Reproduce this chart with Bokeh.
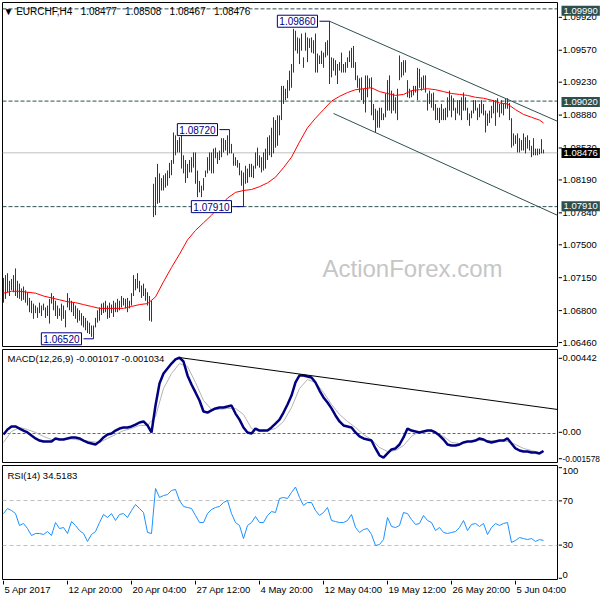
from bokeh.plotting import figure
from bokeh.layouts import column, row
from bokeh.models import Range1d, Label, Span, ColumnDataSource
from bokeh.core.properties import value
from bokeh.embed import file_html
from bokeh.resources import INLINE

# ---------------- data ----------------
GAP = " \u00A0\u00A0"
chart_title = "\u25BC EURCHF,H4" + GAP + "1.08477" + GAP + "1.08508" + GAP + "1.08467" + GAP + "1.08476"

highs = [
    1.0716, 1.0719, 1.0721, 1.0713, 1.0715, 1.0719, 1.0726, 1.0713, 1.0710, 1.0705,
    1.0707, 1.0703, 1.0701, 1.0695, 1.0692, 1.0689, 1.0687, 1.0685, 1.0690, 1.0687,
    1.0689, 1.0685, 1.0687, 1.0694, 1.0700, 1.0697, 1.0692, 1.0687, 1.0684, 1.0689,
    1.0687, 1.0682, 1.0700, 1.0695, 1.0692, 1.0690, 1.0687, 1.0684, 1.0682, 1.0679,
    1.0676, 1.0674, 1.0671, 1.0669, 1.0666, 1.0666, 1.0674, 1.0682, 1.0685, 1.0689,
    1.0690, 1.0692, 1.0687, 1.0690, 1.0688, 1.0692, 1.0690, 1.0694, 1.0692, 1.0697,
    1.0695, 1.0694, 1.0695, 1.0692, 1.0700, 1.0719, 1.0715, 1.0721, 1.0713, 1.0708,
    1.0710, 1.0705, 1.0701, 1.0697, 1.0692, 1.0815, 1.0822, 1.0836, 1.0826, 1.0821,
    1.0824, 1.0826, 1.0829, 1.0837, 1.0840, 1.0869, 1.0866, 1.0861, 1.0864, 1.0868,
    1.0845, 1.0840, 1.0836, 1.0840, 1.0843, 1.0848, 1.0848, 1.0829, 1.0818, 1.0813,
    1.0821, 1.0829, 1.0843, 1.0848, 1.0848, 1.0852, 1.0853, 1.0848, 1.0850, 1.0863,
    1.0863, 1.0861, 1.0866, 1.0872, 1.0857, 1.0847, 1.0843, 1.0840, 1.0837, 1.0829,
    1.0827, 1.0834, 1.0831, 1.0836, 1.0836, 1.0834, 1.0848, 1.0853, 1.0845, 1.0843,
    1.0848, 1.0852, 1.0864, 1.0866, 1.0874, 1.0885, 1.0882, 1.0887, 1.0887, 1.0918,
    1.0918, 1.0915, 1.0924, 1.0934, 1.0941, 1.0978, 1.0976, 1.0969, 1.0968, 1.0973,
    1.0948, 1.0974, 1.0969, 1.0968, 1.0969, 1.0966, 1.0973, 1.0952, 1.0950, 1.0955,
    1.0953, 1.0964, 1.0966, 1.0986, 1.0948, 1.0947, 1.0945, 1.0941, 1.0943, 1.0953,
    1.0941, 1.0943, 1.0948, 1.0955, 1.0958, 1.0960, 1.0943, 1.0929, 1.0926, 1.0927,
    1.0915, 1.0929, 1.0929, 1.0926, 1.0927, 1.0899, 1.0894, 1.0892, 1.0895, 1.0895,
    1.0889, 1.0910, 1.0924, 1.0929, 1.0913, 1.0910, 1.0906, 1.0915, 1.0950, 1.0943,
    1.0945, 1.0945, 1.0924, 1.0915, 1.0913, 1.0918, 1.0918, 1.0937, 1.0936, 1.0927,
    1.0929, 1.0929, 1.0910, 1.0913, 1.0910, 1.0911, 1.0899, 1.0895, 1.0895, 1.0899,
    1.0894, 1.0895, 1.0906, 1.0913, 1.0908, 1.0905, 1.0895, 1.0903, 1.0903, 1.0906,
    1.0911, 1.0906, 1.0895, 1.0889, 1.0892, 1.0903, 1.0903, 1.0895, 1.0899, 1.0903,
    1.0899, 1.0892, 1.0889, 1.0892, 1.0897, 1.0903, 1.0903, 1.0905, 1.0899, 1.0903,
    1.0899, 1.0905, 1.0905, 1.0900, 1.0884, 1.0868, 1.0866, 1.0868, 1.0863, 1.0861,
    1.0868, 1.0864, 1.0866, 1.0861, 1.0855, 1.0863, 1.0852, 1.0852, 1.0852, 1.0862,
    1.0851,
]

lows = [
    1.0690, 1.0694, 1.0701, 1.0697, 1.0703, 1.0701, 1.0697, 1.0695, 1.0694, 1.0692,
    1.0693, 1.0690, 1.0687, 1.0680, 1.0679, 1.0673, 1.0679, 1.0674, 1.0679, 1.0676,
    1.0682, 1.0674, 1.0676, 1.0668, 1.0689, 1.0682, 1.0676, 1.0673, 1.0676, 1.0671,
    1.0673, 1.0664, 1.0685, 1.0682, 1.0680, 1.0676, 1.0673, 1.0669, 1.0671, 1.0666,
    1.0664, 1.0661, 1.0658, 1.0657, 1.0654, 1.0652, 1.0664, 1.0669, 1.0671, 1.0677,
    1.0679, 1.0680, 1.0673, 1.0674, 1.0679, 1.0675, 1.0680, 1.0680, 1.0682, 1.0685,
    1.0687, 1.0684, 1.0680, 1.0684, 1.0687, 1.0697, 1.0703, 1.0705, 1.0701, 1.0695,
    1.0697, 1.0692, 1.0687, 1.0671, 1.0670, 1.0780, 1.0782, 1.0794, 1.0795, 1.0808,
    1.0808, 1.0811, 1.0813, 1.0821, 1.0824, 1.0836, 1.0845, 1.0848, 1.0848, 1.0831,
    1.0826, 1.0816, 1.0821, 1.0827, 1.0827, 1.0832, 1.0815, 1.0801, 1.0806, 1.0801,
    1.0808, 1.0822, 1.0826, 1.0829, 1.0826, 1.0826, 1.0842, 1.0836, 1.0840, 1.0843,
    1.0848, 1.0850, 1.0845, 1.0847, 1.0847, 1.0834, 1.0834, 1.0832, 1.0824, 1.0813,
    1.0791, 1.0815, 1.0816, 1.0822, 1.0822, 1.0821, 1.0831, 1.0834, 1.0832, 1.0827,
    1.0829, 1.0831, 1.0840, 1.0845, 1.0843, 1.0847, 1.0853, 1.0855, 1.0866, 1.0882,
    1.0899, 1.0903, 1.0905, 1.0913, 1.0916, 1.0932, 1.0955, 1.0952, 1.0941, 1.0955,
    1.0937, 1.0955, 1.0943, 1.0958, 1.0953, 1.0952, 1.0932, 1.0932, 1.0941, 1.0941,
    1.0937, 1.0948, 1.0950, 1.0920, 1.0927, 1.0934, 1.0929, 1.0920, 1.0934, 1.0932,
    1.0932, 1.0932, 1.0937, 1.0943, 1.0937, 1.0937, 1.0924, 1.0916, 1.0911, 1.0903,
    1.0899, 1.0890, 1.0906, 1.0916, 1.0887, 1.0882, 1.0869, 1.0874, 1.0874, 1.0882,
    1.0882, 1.0885, 1.0892, 1.0892, 1.0889, 1.0892, 1.0889, 1.0882, 1.0924, 1.0927,
    1.0929, 1.0932, 1.0906, 1.0905, 1.0906, 1.0908, 1.0911, 1.0903, 1.0916, 1.0913,
    1.0915, 1.0911, 1.0892, 1.0899, 1.0895, 1.0892, 1.0882, 1.0882, 1.0879, 1.0882,
    1.0882, 1.0882, 1.0885, 1.0892, 1.0885, 1.0892, 1.0882, 1.0889, 1.0887, 1.0882,
    1.0892, 1.0892, 1.0882, 1.0876, 1.0884, 1.0889, 1.0892, 1.0882, 1.0885, 1.0889,
    1.0887, 1.0869, 1.0876, 1.0879, 1.0884, 1.0889, 1.0876, 1.0890, 1.0885, 1.0889,
    1.0887, 1.0894, 1.0894, 1.0882, 1.0853, 1.0855, 1.0857, 1.0848, 1.0848, 1.0850,
    1.0850, 1.0847, 1.0852, 1.0850, 1.0843, 1.0845, 1.0845, 1.0845, 1.0846, 1.0847,
    1.0847,
]
bar_idx = list(range(len(highs)))

ma_idx = list(range(0, 269, 4)) + [270]
ma21 = [
    1.0700, 1.0702, 1.0702, 1.0701, 1.0700, 1.0697, 1.0695, 1.0693, 1.0691, 1.0690,
    1.0688, 1.0686, 1.0684, 1.0684, 1.0684, 1.0684, 1.0686, 1.0688, 1.0689, 1.0696,
    1.0712, 1.0727, 1.0741, 1.0756, 1.0766, 1.0774, 1.0782, 1.0791, 1.0800, 1.0806,
    1.0808, 1.0809, 1.0812, 1.0816, 1.0822, 1.0832, 1.0843, 1.0859, 1.0874, 1.0884,
    1.0893, 1.0902, 1.0907, 1.0911, 1.0914, 1.0915, 1.0916, 1.0912, 1.0910, 1.0908,
    1.0909, 1.0913, 1.0914, 1.0915, 1.0914, 1.0912, 1.0910, 1.0909, 1.0908, 1.0906,
    1.0905, 1.0903, 1.0900, 1.0899, 1.0893, 1.0888, 1.0885, 1.0882, 1.0879,
]

osc_idx = list(range(0, 271, 2))
macd_main = [
    -0.00006, 0.00023, 0.00041, 0.00041, 0.00029, 0.00017, 0.00006, -0.00012, -0.00029, -0.00041,
    -0.00047, -0.00047, -0.00047, -0.00029, -0.00035, -0.00035, -0.00029, -0.00023, -0.00023, -0.00029,
    -0.00041, -0.00052, -0.00058, -0.00064, -0.00047, -0.00023, -0.00006, 0.00000, 0.00017, 0.00029,
    0.00035, 0.00035, 0.00041, 0.00052, 0.00064, 0.00070, 0.00047, 0.00006, 0.00163, 0.00291,
    0.00349, 0.00378, 0.00407, 0.00431, 0.00442, 0.00419, 0.00338, 0.00285, 0.00239, 0.00192,
    0.00128, 0.00122, 0.00134, 0.00146, 0.00151, 0.00151, 0.00157, 0.00163, 0.00116, 0.00081,
    0.00035, 0.00006, 0.00000, 0.00029, 0.00017, 0.00017, 0.00017, 0.00035, 0.00058, 0.00081,
    0.00122, 0.00169, 0.00221, 0.00297, 0.00338, 0.00338, 0.00332, 0.00326, 0.00297, 0.00250,
    0.00210, 0.00180, 0.00146, 0.00105, 0.00070, 0.00047, 0.00041, 0.00035, 0.00006, -0.00017,
    -0.00029, -0.00035, -0.00041, -0.00087, -0.00128, -0.00140, -0.00116, -0.00093, -0.00087, -0.00064,
    -0.00023, 0.00029, 0.00017, 0.00012, 0.00006, 0.00012, 0.00017, 0.00017, 0.00006, -0.00012,
    -0.00035, -0.00064, -0.00070, -0.00070, -0.00064, -0.00052, -0.00047, -0.00047, -0.00041, -0.00029,
    -0.00035, -0.00047, -0.00052, -0.00047, -0.00041, -0.00041, -0.00029, -0.00058, -0.00087, -0.00099,
    -0.00105, -0.00105, -0.00111, -0.00111, -0.00116, -0.001017,
]
macd_signal = [
    -0.00052, 0.00012, 0.00035, 0.00023, 0.00006, -0.00017, -0.00035, -0.00035, -0.00029, -0.00035,
    -0.00041, -0.00047, -0.00052, -0.00029, -0.00006, 0.00017, 0.00029, 0.00047, 0.00047, 0.00099,
    0.00262, 0.00349, 0.00407, 0.00390, 0.00297, 0.00192, 0.00140, 0.00140, 0.00146, 0.00146,
    0.00111, 0.00029, 0.00012, 0.00017, 0.00029, 0.00070, 0.00151, 0.00262, 0.00314, 0.00297,
    0.00239, 0.00169, 0.00111, 0.00070, 0.00035, -0.00006, -0.00035, -0.00081, -0.00105, -0.00099,
    -0.00070, -0.00017, 0.00012, 0.00017, 0.00006, -0.00017, -0.00052, -0.00058, -0.00047, -0.00041,
    -0.00041, -0.00041, -0.00041, -0.00047, -0.00064, -0.00087, -0.00099, -0.00111, -0.001034,
]
rsi14 = [
    58.4, 62.9, 61.1, 58.4, 47.8, 49.6, 45.1, 38.9, 40.7, 40.7,
    39.8, 42.4, 38.9, 50.4, 45.1, 46.0, 40.7, 51.3, 47.8, 43.3,
    40.7, 33.6, 39.8, 42.4, 50.4, 57.6, 54.9, 58.4, 52.2, 57.6,
    58.4, 54.9, 61.1, 66.4, 62.9, 59.3, 41.6, 40.7, 80.7, 72.7,
    74.4, 75.3, 78.9, 79.8, 70.0, 64.7, 63.8, 62.9, 56.7, 50.4,
    50.4, 58.4, 62.0, 63.8, 64.7, 68.2, 70.0, 58.4, 50.4, 47.8,
    36.2, 47.8, 50.4, 55.8, 50.4, 50.4, 56.7, 60.2, 59.3, 71.8,
    72.7, 71.8, 77.1, 82.0, 72.7, 65.6, 68.2, 68.2, 61.1, 56.7,
    59.3, 63.8, 52.2, 51.3, 50.4, 50.4, 52.2, 57.6, 46.0, 41.6,
    44.2, 45.1, 39.8, 30.0, 30.9, 35.3, 54.9, 46.9, 46.0, 47.8,
    59.3, 58.4, 53.1, 48.7, 49.6, 56.7, 52.2, 50.4, 43.3, 46.0,
    41.6, 40.7, 41.6, 42.4, 46.0, 52.2, 43.3, 48.7, 49.6, 46.9,
    49.6, 39.8, 46.0, 49.6, 47.8, 49.6, 50.4, 32.7, 34.5, 37.1,
    36.2, 35.3, 36.2, 33.6, 35.3, 34.5183,
]

swing_idx = [163, 113, 120, 45]
swing_price = [1.0986, 1.0872, 1.0791, 1.0652]
level_prices = [1.0999, 1.0902, 1.0791]
bid_price = 1.08476

chan_x0 = [163, 165]
chan_y0 = [1.0986, 1.0889]
chan_x1 = [280, 280]
chan_y1 = [1.0878, 1.0779]
macd_trend_x = [88, 280]
macd_trend_y = [0.00442, 0.00135]

price_ticks = [1.0992, 1.0957, 1.0923, 1.0888, 1.0853, 1.0819, 1.0784, 1.0750, 1.0715, 1.0680, 1.0646]
macd_ticks = [0.00442, 0.0, -0.001578]
macd_tick_labels = ["0.00442", "0.00", "-0.001578"]
rsi_ticks = [100, 70, 30, 0]
rsi_levels = [30, 70]
time_tick_idx = [0, 32, 64, 96, 128, 160, 192, 224, 256]
time_tick_labels = ["5 Apr 2017", "12 Apr 20:00", "20 Apr 04:00", "27 Apr 12:00", "4 May 20:00",
                    "12 May 04:00", "19 May 12:00", "26 May 20:00", "5 Jun 04:00"]

macd_text = "MACD(12,26,9) -0.001017 -0.001034"
rsi_text = "RSI(14) 34.5183"
watermark = "ActionForex.com"

# ---------------- styling ----------------
FONT = "Liberation Sans"
FS = "9.5px"
BAR = "#143F55"
SLATE = "#2F4F4F"
NAVY = "#000080"
MAIN_W = 558
SIDE_W = 42

xr = Range1d(-0.5, 277.0)


def frame_fig(w, h, x_range, y_range, top, bottom, left=2, right=1, outline=True):
    f = figure(width=w, height=h, x_range=x_range, y_range=y_range, output_backend="svg",
               toolbar_location=None, x_axis_location=None, y_axis_location=None,
               min_border_left=left, min_border_right=right,
               min_border_top=top, min_border_bottom=bottom,
               outline_line_color="black" if outline else None, outline_line_width=1,
               background_fill_color="white", border_fill_color="white")
    f.grid.visible = False
    return f


def txt(fig, **kw):
    base = dict(text_font=FONT, text_font_size=FS, text_color="black")
    base.update(kw)
    fig.add_layout(Label(**base))


def side_axis(h, y_range, ticks, labels, baselines, sizes=None):
    s = frame_fig(SIDE_W, h, Range1d(0, SIDE_W), y_range, 0, 0, left=0, right=0, outline=False)
    s.segment(x0=0, y0=ticks, x1=3.5, y1=ticks, line_color="black", line_width=1)
    sizes = sizes or [FS] * len(ticks)
    for t, lab, bl, fs in zip(ticks, labels, baselines, sizes):
        s.text(x=4, y=t, text=[lab], text_font=value(FONT), text_font_size=value(fs),
               text_color="black", text_baseline=bl, text_align="left")
    return s


# ---------------- price panel ----------------
p = frame_fig(MAIN_W, 348, xr, Range1d(1.06439, 1.10057), 2, 2)

txt(p, x=204.5, y=1.0726, text=watermark, text_font_size="24px", text_color="#C6C6C6",
    text_align="center", text_baseline="middle", level="underlay")

for lv in level_prices:
    p.add_layout(Span(location=lv, dimension="width", line_color=SLATE, line_dash="4 2",
                      line_width=1, level="underlay"))
p.add_layout(Span(location=bid_price, dimension="width", line_color="#C0C0C0",
                  line_width=1, level="underlay"))

src = ColumnDataSource(dict(i=bar_idx, hi=highs, lo=lows))
p.segment(x0="i", y0="lo", x1="i", y1="hi", source=src, line_color=BAR, line_width=1)
p.line(ma_idx, ma21, line_color="#FF0000", line_width=1)
p.segment(x0=chan_x0, y0=chan_y0, x1=chan_x1, y1=chan_y1, line_color=SLATE, line_width=1)

p.segment(x0=[i - 5 for i in swing_idx], y0=swing_price, x1=swing_idx, y1=swing_price,
          line_color=NAVY, line_width=1)
for i, pr in zip(swing_idx, swing_price):
    txt(p, x=i, y=pr, x_offset=-12, text=f"{pr:.5f}", text_align="right", text_baseline="middle",
        text_color=NAVY, text_font_size="10px", background_fill_color="white",
        border_line_color=NAVY, border_line_width=1, padding=2)

txt(p, x=1, x_units="screen", y=1.0996, text=chart_title, text_baseline="middle", text_font_size="10px")

ps = side_axis(348, Range1d(1.06418, 1.10078), price_ticks, [f"{t:.5f}" for t in price_ticks],
               ["middle"] * len(price_ticks))
for pr, bg in [(level_prices[0], SLATE), (level_prices[1], SLATE), (level_prices[2], SLATE),
               (bid_price, "black")]:
    txt(ps, x=3, y=pr, text=f"{pr:.5f}", text_color="white", background_fill_color=bg,
        text_align="left", text_baseline="middle", padding=2)

# ---------------- MACD panel ----------------
m = frame_fig(MAIN_W, 116, xr, Range1d(-0.001688, 0.004889), 1, 2)
m.add_layout(Span(location=0, dimension="width", line_color="#666666", line_dash="3 2",
                  line_width=1, level="underlay"))
m.line(ma_idx, macd_signal, line_color="#B4B4B4", line_width=1)
m.line(osc_idx, macd_main, line_color=NAVY, line_width=2.5)
m.line(macd_trend_x, macd_trend_y, line_color="black", line_width=1)
txt(m, x=5, x_units="screen", y=0.004365, text=macd_text, text_baseline="middle")
ms = side_axis(116, Range1d(-0.001804, 0.004947), macd_ticks, macd_tick_labels,
               ["middle", "middle", "alphabetic"], sizes=[FS, FS, "8.3px"])

# ---------------- RSI panel ----------------
r = frame_fig(MAIN_W, 116, xr, Range1d(-0.2, 101.1), 1, 1)
for lv in rsi_levels:
    r.add_layout(Span(location=lv, dimension="width", line_color="#C0C0C0", line_dash="4 3",
                      line_width=1, level="underlay"))
r.line(osc_idx, rsi14, line_color="#1E90FF", line_width=1)
txt(r, x=5, x_units="screen", y=92.2, text=rsi_text, text_baseline="middle")
rs = side_axis(116, Range1d(-1.09, 101.99), rsi_ticks, [str(t) for t in rsi_ticks],
               ["top", "middle", "middle", "bottom"])

# ---------------- time axis strip ----------------
t = frame_fig(MAIN_W + SIDE_W, 19, Range1d(-0.5, 298.5), Range1d(0, 19), 0, 0, left=2, right=0,
              outline=False)
t.segment(x0=time_tick_idx, y0=19, x1=time_tick_idx, y1=15, line_color="black", line_width=1)
t.text(x=time_tick_idx, y=15.5, text=time_tick_labels, x_offset=1, text_font=value(FONT),
       text_font_size=value(FS), text_color="black", text_baseline="top", text_align="left")

layout = column(row(p, ps, spacing=0), row(m, ms, spacing=0), row(r, rs, spacing=0), t, spacing=0)
open("out.html", "w").write(file_html(layout, INLINE))
